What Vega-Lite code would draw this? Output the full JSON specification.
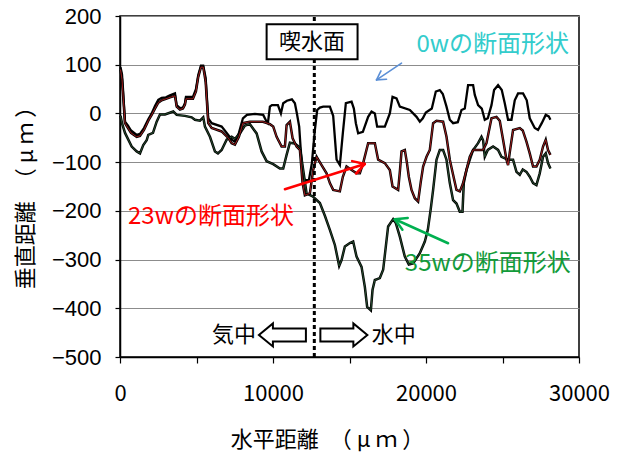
{
"$schema": "https://vega.github.io/schema/vega-lite/v6.json",
"width": 459, "height": 341,
"autosize": {"type": "none"},
"padding": {"left": 120, "top": 16, "right": 44, "bottom": 95},
"background": "white",
"config": {"view": {"stroke": "#000", "strokeWidth": 1.5}, "font": "Noto Sans CJK JP"},
"datasets": {
"w0": [{"x":33,"y":95},{"x":131,"y":80},{"x":196,"y":50},{"x":327,"y":-17},{"x":523,"y":-25},{"x":719,"y":-35},{"x":1091,"y":-44},{"x":1306,"y":-42},{"x":1568,"y":-30},{"x":1849,"y":-12},{"x":2071,"y":0},{"x":2286,"y":15},{"x":2502,"y":28},{"x":2724,"y":32},{"x":3005,"y":33},{"x":3266,"y":37},{"x":3593,"y":41},{"x":3704,"y":17},{"x":3919,"y":11},{"x":4115,"y":12},{"x":4246,"y":21},{"x":4311,"y":34},{"x":4768,"y":34},{"x":4964,"y":50},{"x":5115,"y":79},{"x":5291,"y":98},{"x":5441,"y":98},{"x":5598,"y":73},{"x":5768,"y":-10},{"x":5990,"y":-20},{"x":6643,"y":-27},{"x":7074,"y":-44},{"x":7296,"y":-54},{"x":7512,"y":-58},{"x":7773,"y":-40},{"x":8034,"y":-10},{"x":8296,"y":-3},{"x":8818,"y":-1},{"x":9360,"y":-3},{"x":9582,"y":-17},{"x":9667,"y":-20},{"x":9798,"y":14},{"x":9929,"y":17},{"x":10321,"y":17},{"x":10517,"y":0},{"x":10667,"y":21},{"x":10908,"y":26},{"x":11235,"y":29},{"x":11431,"y":21},{"x":11562,"y":0},{"x":11712,"y":-27},{"x":11803,"y":-70},{"x":11954,"y":-130},{"x":12084,"y":-137},{"x":12345,"y":-137},{"x":12541,"y":-102},{"x":12737,"y":-34},{"x":12888,"y":7},{"x":13064,"y":12},{"x":13280,"y":14},{"x":13717,"y":14},{"x":13933,"y":-5},{"x":14155,"y":-95},{"x":14370,"y":-106},{"x":14566,"y":-40},{"x":14762,"y":21},{"x":15135,"y":24},{"x":15285,"y":10},{"x":15416,"y":-20},{"x":15566,"y":-41},{"x":15873,"y":-38},{"x":16219,"y":-7},{"x":16441,"y":4},{"x":16657,"y":0},{"x":16807,"y":-27},{"x":17310,"y":-27},{"x":17636,"y":0},{"x":17813,"y":34},{"x":18074,"y":31},{"x":18290,"y":14},{"x":18943,"y":7},{"x":19381,"y":-7},{"x":19596,"y":-17},{"x":19792,"y":-10},{"x":19988,"y":2},{"x":20380,"y":10},{"x":20641,"y":45},{"x":20902,"y":48},{"x":21098,"y":40},{"x":21340,"y":14},{"x":21556,"y":-13},{"x":21771,"y":-20},{"x":22078,"y":-18},{"x":22320,"y":7},{"x":22535,"y":10},{"x":22751,"y":58},{"x":23078,"y":58},{"x":23189,"y":38},{"x":23404,"y":17},{"x":23646,"y":10},{"x":23842,"y":-13},{"x":24038,"y":-10},{"x":24280,"y":17},{"x":24449,"y":48},{"x":24711,"y":58},{"x":24952,"y":48},{"x":25148,"y":21},{"x":25364,"y":-13},{"x":25586,"y":-13},{"x":25801,"y":27},{"x":26017,"y":41},{"x":26344,"y":41},{"x":26585,"y":27},{"x":26781,"y":-10},{"x":27108,"y":-30},{"x":27323,"y":-34},{"x":27565,"y":-20},{"x":27826,"y":-3},{"x":28022,"y":-6},{"x":28133,"y":-13}],
"w23": [{"x":33,"y":90},{"x":131,"y":70},{"x":196,"y":40},{"x":327,"y":-20},{"x":523,"y":-30},{"x":719,"y":-40},{"x":1091,"y":-48},{"x":1306,"y":-46},{"x":1568,"y":-34},{"x":1849,"y":-15},{"x":2071,"y":-3},{"x":2286,"y":10},{"x":2502,"y":22},{"x":2724,"y":27},{"x":3005,"y":30},{"x":3266,"y":33},{"x":3593,"y":36},{"x":3704,"y":14},{"x":3919,"y":8},{"x":4115,"y":10},{"x":4246,"y":18},{"x":4311,"y":30},{"x":4768,"y":30},{"x":4964,"y":45},{"x":5115,"y":75},{"x":5291,"y":95},{"x":5441,"y":95},{"x":5598,"y":65},{"x":5768,"y":-20},{"x":5990,"y":-30},{"x":6643,"y":-37},{"x":7074,"y":-50},{"x":7296,"y":-61},{"x":7512,"y":-64},{"x":7773,"y":-48},{"x":8034,"y":-20},{"x":8492,"y":-17},{"x":9341,"y":-17},{"x":9798,"y":-22},{"x":10014,"y":-27},{"x":10236,"y":-48},{"x":10562,"y":-68},{"x":10778,"y":-68},{"x":10889,"y":-24},{"x":11104,"y":-17},{"x":11281,"y":-51},{"x":11542,"y":-68},{"x":11758,"y":-75},{"x":11934,"y":-143},{"x":12084,"y":-168},{"x":12411,"y":-164},{"x":12626,"y":-116},{"x":12849,"y":-89},{"x":13175,"y":-106},{"x":13502,"y":-123},{"x":13717,"y":-143},{"x":13933,"y":-157},{"x":14370,"y":-160},{"x":14566,"y":-130},{"x":14808,"y":-109},{"x":15089,"y":-115},{"x":15461,"y":-123},{"x":15677,"y":-123},{"x":15892,"y":-102},{"x":16219,"y":-61},{"x":16657,"y":-61},{"x":16872,"y":-95},{"x":17310,"y":-102},{"x":17636,"y":-116},{"x":17813,"y":-150},{"x":18179,"y":-157},{"x":18290,"y":-120},{"x":18401,"y":-78},{"x":18616,"y":-75},{"x":18747,"y":-100},{"x":18877,"y":-130},{"x":19054,"y":-157},{"x":19269,"y":-174},{"x":19485,"y":-181},{"x":19661,"y":-140},{"x":19812,"y":-109},{"x":20034,"y":-89},{"x":20249,"y":-75},{"x":20465,"y":-20},{"x":20687,"y":-15},{"x":21118,"y":-17},{"x":21340,"y":-48},{"x":21556,"y":-95},{"x":21771,"y":-126},{"x":21993,"y":-157},{"x":22209,"y":-160},{"x":22405,"y":-145},{"x":22646,"y":-116},{"x":22862,"y":-89},{"x":23078,"y":-75},{"x":23731,"y":-75},{"x":23953,"y":-61},{"x":24280,"y":-10},{"x":24606,"y":-7},{"x":24822,"y":-15},{"x":25037,"y":-54},{"x":25259,"y":-95},{"x":25364,"y":-106},{"x":25475,"y":-80},{"x":25690,"y":-34},{"x":26128,"y":-30},{"x":26324,"y":-35},{"x":26566,"y":-58},{"x":26781,"y":-82},{"x":26997,"y":-109},{"x":27218,"y":-109},{"x":27434,"y":-95},{"x":27650,"y":-68},{"x":27826,"y":-54},{"x":27976,"y":-75},{"x":28133,"y":-85}],
"w35": [{"x":33,"y":-5},{"x":131,"y":-20},{"x":327,"y":-40},{"x":764,"y":-68},{"x":1091,"y":-78},{"x":1306,"y":-82},{"x":1522,"y":-65},{"x":1744,"y":-55},{"x":1849,"y":-44},{"x":2156,"y":-40},{"x":2397,"y":-17},{"x":2613,"y":-2},{"x":2939,"y":-2},{"x":3482,"y":4},{"x":3704,"y":-3},{"x":4246,"y":-5},{"x":4683,"y":-8},{"x":4899,"y":-13},{"x":5226,"y":-15},{"x":5441,"y":-8},{"x":5552,"y":-27},{"x":5879,"y":-48},{"x":6205,"y":-78},{"x":6401,"y":-82},{"x":6643,"y":-75},{"x":6970,"y":-54},{"x":7296,"y":-48},{"x":7512,"y":-52},{"x":7838,"y":-41},{"x":8165,"y":-25},{"x":8492,"y":-22},{"x":8929,"y":-41},{"x":9256,"y":-78},{"x":9582,"y":-98},{"x":10014,"y":-104},{"x":10451,"y":-113},{"x":10667,"y":-113},{"x":10889,"y":-85},{"x":11104,"y":-60},{"x":11431,"y":-62},{"x":11758,"y":-70},{"x":11973,"y":-116},{"x":12195,"y":-164},{"x":12626,"y":-171},{"x":13064,"y":-184},{"x":13391,"y":-210},{"x":13717,"y":-239},{"x":14044,"y":-270},{"x":14325,"y":-313},{"x":14481,"y":-301},{"x":14697,"y":-273},{"x":15024,"y":-266},{"x":15239,"y":-263},{"x":15461,"y":-294},{"x":15788,"y":-315},{"x":16003,"y":-356},{"x":16154,"y":-397},{"x":16395,"y":-404},{"x":16506,"y":-362},{"x":16657,"y":-342},{"x":16983,"y":-338},{"x":17199,"y":-321},{"x":17375,"y":-273},{"x":17525,"y":-232},{"x":17852,"y":-217},{"x":18028,"y":-225},{"x":18290,"y":-253},{"x":18616,"y":-294},{"x":18877,"y":-310},{"x":19158,"y":-308},{"x":19596,"y":-287},{"x":19923,"y":-263},{"x":20119,"y":-239},{"x":20315,"y":-195},{"x":20465,"y":-157},{"x":20687,"y":-95},{"x":20902,"y":-75},{"x":21118,"y":-75},{"x":21340,"y":-95},{"x":21556,"y":-143},{"x":21771,"y":-178},{"x":21993,"y":-185},{"x":22209,"y":-202},{"x":22385,"y":-202},{"x":22470,"y":-143},{"x":22646,"y":-116},{"x":22862,"y":-95},{"x":23078,"y":-75},{"x":23404,"y":-61},{"x":23627,"y":-48},{"x":23731,"y":-55},{"x":23842,"y":-89},{"x":24038,"y":-75},{"x":24384,"y":-68},{"x":24711,"y":-75},{"x":24933,"y":-89},{"x":25364,"y":-95},{"x":25690,"y":-95},{"x":25912,"y":-120},{"x":26128,"y":-126},{"x":26324,"y":-115},{"x":26566,"y":-120},{"x":26781,"y":-130},{"x":26997,"y":-143},{"x":27218,"y":-147},{"x":27434,"y":-123},{"x":27650,"y":-89},{"x":27826,"y":-82},{"x":27976,"y":-102},{"x":28133,"y":-113}]
},
"encoding": {
"x": {"field": "x", "type": "quantitative", "scale": {"domain": [0, 30000], "nice": false, "zero": false},
 "axis": {"values": [0,5000,10000,15000,20000,25000,30000], "labelExpr": "datum.value % 10000 === 0 ? '' + datum.value : ''", "labelFlush": false, "labelOverlap": false, "grid": false, "tickSize": 6, "tickColor": "#000", "tickWidth": 1.2, "domainColor": "#000", "domainWidth": 1.5, "labelFontSize": 22, "labelColor": "#000", "labelPadding": 20, "title": "水平距離　（ μ ｍ ）", "titleFontSize": 22, "titleFontWeight": "normal", "titleColor": "#000", "titleX": 207, "titleY": 82, "titleBaseline": "middle", "titleAlign": "center"}},
"y": {"field": "y", "type": "quantitative", "scale": {"domain": [-500, 200], "nice": false, "zero": false},
 "axis": {"values": [-500,-400,-300,-200,-100,0,100,200], "labelFont": "Liberation Sans", "grid": true, "gridColor": "#8c8c8c", "gridWidth": 1, "tickSize": 5, "tickColor": "#000", "tickWidth": 1.2, "domainColor": "#000", "domainWidth": 1.5, "labelFontSize": 22, "labelColor": "#000", "labelPadding": 14, "title": "垂直距離　（ μ ｍ ）", "titleFontSize": 22, "titleFontWeight": "normal", "titleColor": "#000", "titleX": -95, "titleY": 176, "titleAngle": 270, "titleBaseline": "middle", "titleAlign": "center"}}
},
"layer": [
{"data": {"name": "w0"}, "mark": {"type": "line", "color": "#000", "strokeWidth": 2.3}},
{"data": {"name": "w35"}, "mark": {"type": "line", "color": "#000", "strokeWidth": 2.5}},
{"data": {"name": "w35"}, "mark": {"type": "line", "color": "#2e5e3a", "strokeWidth": 0.8}},
{"data": {"name": "w23"}, "mark": {"type": "line", "color": "#000", "strokeWidth": 2.5}},
{"data": {"name": "w23"}, "mark": {"type": "line", "color": "#b02020", "strokeWidth": 0.9}},
{"data": {"values": [{"x": 12700, "y": -500, "y2": 200}]}, "mark": {"type": "rule", "color": "#000", "strokeWidth": 3, "strokeDash": [4, 3]}, "encoding": {"y2": {"field": "y2"}}},
{"data": {"values": [{"x": 9583, "x2": 15527, "y": 111.3, "y2": 183.1}]}, "mark": {"type": "rect", "fill": "#fff", "stroke": "#000", "strokeWidth": 2}, "encoding": {"x2": {"field": "x2"}, "y2": {"field": "y2"}}},
{"data": {"values": [{"x": 12555, "y": 147.2, "t": "喫水面"}, {"x": 7447, "y": -454.7, "t": "気中"}, {"x": 17898, "y": -454.7, "t": "水中"}]}, "mark": {"type": "text", "fontSize": 22, "color": "#000", "align": "center", "baseline": "middle"}, "encoding": {"text": {"field": "t"}}},
{"data": {"values": [{"x": 19381, "y": 140.6, "t": "0wの断面形状"}]}, "mark": {"type": "text", "fontSize": 24, "color": "#33cccc", "align": "left", "baseline": "middle"}, "encoding": {"text": {"field": "t"}}},
{"data": {"values": [{"x": 523, "y": -211.9, "t": "23wの断面形状"}]}, "mark": {"type": "text", "fontSize": 24, "color": "#ff0000", "align": "left", "baseline": "middle"}, "encoding": {"text": {"field": "t"}}},
{"data": {"values": [{"x": 18616, "y": -309, "t": "35wの断面形状"}]}, "mark": {"type": "text", "fontSize": 24, "color": "#129b3a", "align": "left", "baseline": "middle"}, "encoding": {"text": {"field": "t"}}},
{"data": {"values": [{"x": 10778, "y": -155.6, "x2": 16003, "y2": -103.7}, {"x": 15174, "y": -97.9, "x2": 16003, "y2": -103.7}, {"x": 15429, "y": -123.4, "x2": 16003, "y2": -103.7}]}, "mark": {"type": "rule", "color": "#ff0000", "strokeWidth": 2.5, "strokeCap": "round"}, "encoding": {"x2": {"field": "x2"}, "y2": {"field": "y2"}}},
{"data": {"values": [{"x": 21445, "y": -266.5, "x2": 17963, "y2": -217.2}, {"x": 18460, "y": -238.8, "x2": 17963, "y2": -217.2}, {"x": 18806, "y": -214.5, "x2": 17963, "y2": -217.2}]}, "mark": {"type": "rule", "color": "#00b050", "strokeWidth": 2.5, "strokeCap": "round"}, "encoding": {"x2": {"field": "x2"}, "y2": {"field": "y2"}}},
{"data": {"values": [{"x": 18401, "y": 103.1, "x2": 16768, "y2": 68.8}, {"x": 17421, "y": 70.1, "x2": 16768, "y2": 68.8}, {"x": 17055, "y": 87.3, "x2": 16768, "y2": 68.8}]}, "mark": {"type": "rule", "color": "#5b8fd6", "strokeWidth": 1.6, "strokeCap": "round"}, "encoding": {"x2": {"field": "x2"}, "y2": {"field": "y2"}}},
{"data": {"values": [{"x": 10615, "y": -454.7}]}, "mark": {"type": "point", "shape": "M-1,0L-0.404,-0.489L-0.404,-0.277L1,-0.277L1,0.277L-0.404,0.277L-0.404,0.489Z", "size": 2209, "filled": true, "fill": "#fff", "fillOpacity": 1, "stroke": "#000", "strokeWidth": 2, "opacity": 1}},
{"data": {"values": [{"x": 14632, "y": -454.7}]}, "mark": {"type": "point", "shape": "M1,0L0.404,-0.489L0.404,-0.277L-1,-0.277L-1,0.277L0.404,0.277L0.404,0.489Z", "size": 2209, "filled": true, "fill": "#fff", "fillOpacity": 1, "stroke": "#000", "strokeWidth": 2, "opacity": 1}}
]
}
